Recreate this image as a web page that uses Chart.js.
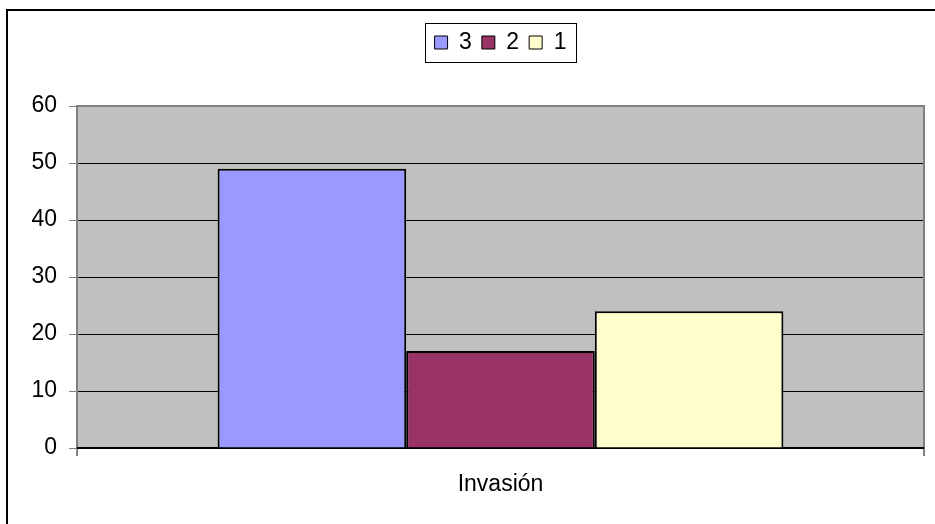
<!DOCTYPE html>
<html>
<head>
<meta charset="utf-8">
<script src="https://cdn.jsdelivr.net/npm/chart.js@4"></script>
<style>
    body { margin: 0; background: #fff; overflow: hidden; }
    .frame { position: absolute; left: 6px; top: 9px; width: 1000px; height: 1000px; border: 2px solid #000; }
    #chart { position: absolute; left: 0; top: 0; }
</style>
</head>
<body>
<div class="frame"></div>
<canvas id="chart" width="935" height="524"></canvas>
<script>
const categories = ['Invasión'];
const seriesNames = ['3', '2', '1'];
const seriesValues = [[49], [17], [24]];
const seriesColors = ['#9999FF', '#993366', '#FFFFCC'];
const yTicks = [0, 10, 20, 30, 40, 50, 60];

Chart.defaults.font.family = "'Liberation Sans', Arial, sans-serif";
Chart.defaults.font.size = 23;
Chart.defaults.color = '#000';

// gray plot background + border, legend centred over the plot with a frame
const plotArea = {
    id: 'plotArea',
    afterLayout(chart) {
        const a = chart.chartArea, lg = chart.legend;
        const dx = (a.left + a.right) / 2 - (lg.left + lg.right) / 2;
        lg.left += dx;
        lg.right += dx;
    },
    beforeDraw(chart) {
        const a = chart.chartArea, c = chart.ctx;
        c.save();
        c.fillStyle = '#C0C0C0';
        c.fillRect(a.left, a.top, a.right - a.left, a.bottom - a.top);
        c.restore();
    },
    beforeDatasetsDraw(chart) {
        const a = chart.chartArea, c = chart.ctx;
        c.save();
        c.strokeStyle = '#808080';
        c.lineWidth = 2;
        c.strokeRect(a.left, a.top, a.right - a.left, a.bottom - a.top);
        c.strokeStyle = '#000';
        c.beginPath();
        c.moveTo(a.left, a.bottom);
        c.lineTo(a.right, a.bottom);
        c.stroke();
        c.restore();
    },
    afterDraw(chart) {
        const boxes = chart.legend.legendHitBoxes;
        if (!boxes || !boxes.length) return;
        const l = Math.min(...boxes.map(b => b.left)) - 10;
        const r = Math.max(...boxes.map(b => b.left + b.width)) + 9;
        const t = boxes[0].top - 8;
        const bt = boxes[0].top + boxes[0].height + 8;
        const c = chart.ctx;
        c.save();
        c.strokeStyle = '#000';
        c.lineWidth = 1;
        c.strokeRect(Math.round(l) + 0.5, Math.round(t) + 0.5, Math.round(r - l), Math.round(bt - t));
        c.restore();
    }
};

new Chart(document.getElementById('chart').getContext('2d'), {
    type: 'bar',
    data: {
        labels: categories,
        datasets: seriesNames.map((name, i) => ({
            label: name,
            data: seriesValues[i],
            backgroundColor: seriesColors[i],
            borderColor: '#000',
            borderWidth: 2,
            categoryPercentage: 0.668,
            barPercentage: 1
        }))
    },
    options: {
        responsive: false,
        animation: false,
        devicePixelRatio: 1,
        layout: {
            padding: { left: 10, right: 11, top: 21, bottom: 10 }
        },
        plugins: {
            legend: {
                display: true,
                position: 'top',
                labels: {
                    boxWidth: 13,
                    boxHeight: 13,
                    padding: 10,
                    font: { size: 23 },
                    generateLabels(chart) {
                        const items = Chart.defaults.plugins.legend.labels.generateLabels(chart);
                        items.forEach(it => { it.lineWidth = 1; });
                        return items;
                    }
                },
                onClick: null
            },
            tooltip: { enabled: false }
        },
        scales: {
            x: {
                position: 'bottom',
                grid: {
                    display: true,
                    offset: true,
                    color: '#808080',
                    tickColor: '#808080',
                    lineWidth: 2,
                    tickLength: 8
                },
                border: { display: true, color: '#000', width: 2 },
                ticks: { padding: 15, font: { size: 23 } },
                afterFit(s) { s.height = 66; }
            },
            xTop: {
                type: 'category',
                position: 'top',
                ticks: { display: false },
                grid: { display: false, drawTicks: false },
                border: { display: false },
                afterFit(s) { s.height = 42; }
            },
            y: {
                min: 0,
                max: 60,
                afterBuildTicks(s) { s.ticks = yTicks.map(v => ({ value: v })); },
                grid: {
                    color: '#000',
                    tickColor: '#808080',
                    lineWidth: 1,
                    tickLength: 8
                },
                border: { display: true, color: '#808080', width: 2 },
                ticks: { padding: 12, font: { size: 23 } },
                afterFit(s) { s.width = 67; }
            }
        }
    },
    plugins: [plotArea]
});
</script>
</body>
</html>
